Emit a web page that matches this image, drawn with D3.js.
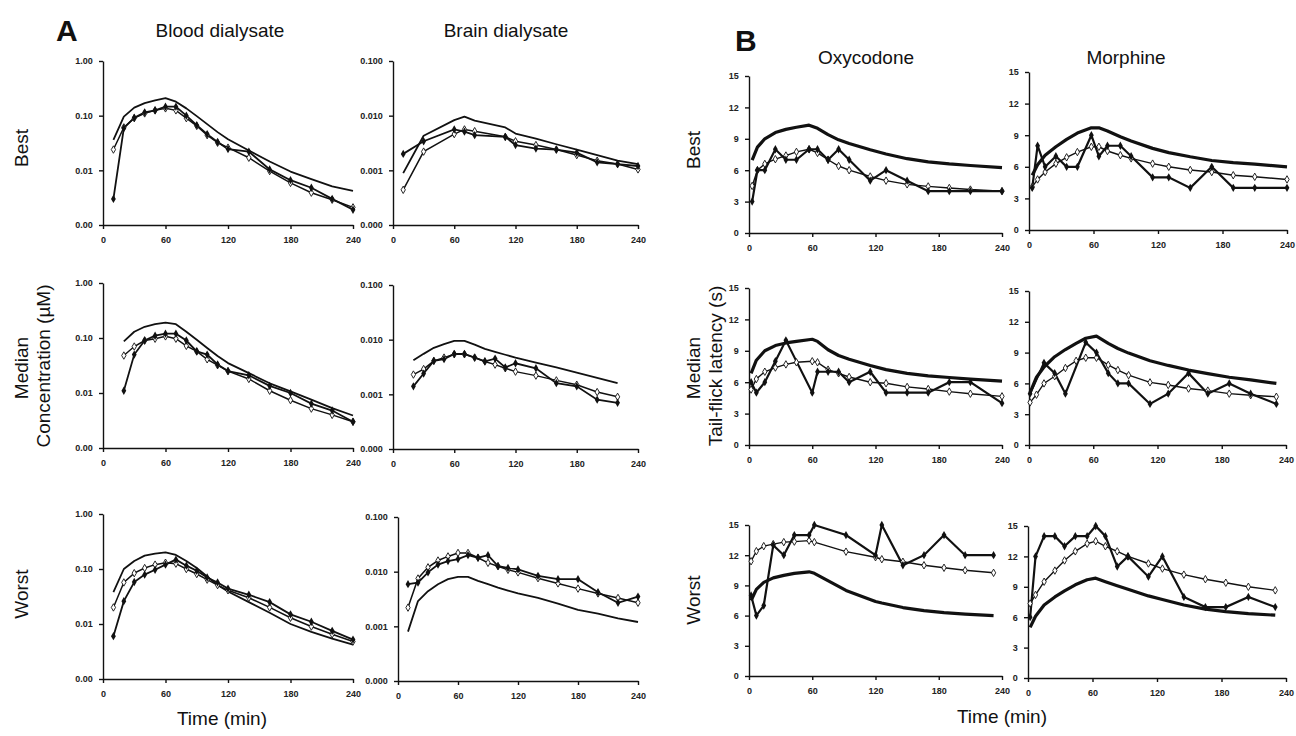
<!DOCTYPE html>
<html>
<head>
<meta charset="utf-8">
<style>
  body { margin: 0; background: #fff; }
  svg { font-family: "Liberation Sans", Arial, sans-serif; }
  .tick text { font-weight: bold; font-size: 9px; fill: #222; }
</style>
</head>
<body>
<svg id="chart" width="1296" height="736"></svg>
<script src="https://cdn.jsdelivr.net/npm/d3@7"></script>
<script>
// ---- A: blood dialysate (uM) ----
const bloodBestTimes = [10,20,30,40,50,60,70,80,90,100,110,120,140,160,180,200,220,240]
const bloodBestLine = [0.036,0.096,0.14,0.17,0.19,0.21,0.18,0.136,0.098,0.07,0.05,0.037,0.023,0.0145,0.0095,0.0069,0.0051,0.0042]
const bloodBestFilled = [0.003,0.059,0.092,0.115,0.125,0.146,0.146,0.10,0.067,0.046,0.033,0.0245,0.022,0.0104,0.0066,0.0048,0.003,0.0019]
const bloodBestOpen = [0.024,0.061,0.09,0.11,0.125,0.136,0.125,0.09,0.065,0.044,0.032,0.026,0.017,0.0097,0.0059,0.0039,0.0029,0.0021]

const bloodMedianTimes = [20,30,40,50,60,70,80,90,100,110,120,140,160,180,200,220,240]
const bloodMedianLine = [0.087,0.13,0.16,0.178,0.19,0.178,0.13,0.093,0.066,0.047,0.035,0.023,0.015,0.0107,0.0076,0.0053,0.0039]
const bloodMedianFilled = [0.011,0.05,0.09,0.11,0.12,0.12,0.09,0.057,0.05,0.033,0.025,0.021,0.0135,0.01,0.0064,0.0048,0.003]
const bloodMedianOpen = [0.048,0.07,0.09,0.097,0.107,0.097,0.072,0.057,0.041,0.032,0.025,0.018,0.011,0.0074,0.0052,0.004,0.003]

const bloodWorstTimes = [10,20,30,40,50,60,70,80,90,100,110,120,140,160,180,200,220,240]
const bloodWorstLine = [0.038,0.10,0.14,0.175,0.19,0.2,0.18,0.14,0.104,0.073,0.051,0.039,0.025,0.016,0.010,0.0072,0.0054,0.0042]
const bloodWorstFilled = [0.006,0.026,0.058,0.079,0.097,0.12,0.148,0.115,0.093,0.07,0.057,0.044,0.034,0.025,0.015,0.011,0.0075,0.0052]
const bloodWorstOpen = [0.02,0.057,0.084,0.104,0.12,0.13,0.125,0.10,0.081,0.064,0.051,0.041,0.03,0.02,0.013,0.009,0.0065,0.0048]

// ---- A: brain dialysate (uM) ----
const brainBestTimes = [10,30,60,70,80,110,120,140,160,180,200,220,240]
const brainBestLine = [0.00089,0.0043,0.0083,0.0096,0.0081,0.0061,0.0047,0.0038,0.003,0.0024,0.0019,0.0015,0.0013]
const brainBestFilled = [0.002,0.0034,0.0056,0.0051,0.0044,0.0041,0.0029,0.0025,0.0024,0.0021,0.0014,0.0013,0.0012]
const brainBestOpen = [0.00044,0.0022,0.0046,0.0056,0.0052,0.0041,0.0034,0.0029,0.0024,0.0019,0.0015,0.0013,0.00104]

const brainMedianTimes = [20,30,40,50,60,70,80,90,100,110,120,140,160,180,200,220]
const brainMedianLine = [0.0042,0.0055,0.0071,0.0083,0.0095,0.0095,0.0081,0.0068,0.006,0.0053,0.0047,0.0038,0.0031,0.0025,0.002,0.0016]
const brainMedianFilled = [0.0014,0.0024,0.0041,0.0044,0.0055,0.0055,0.0047,0.004,0.0045,0.0031,0.0037,0.003,0.0016,0.0014,0.0008,0.0007]
const brainMedianOpen = [0.0023,0.0029,0.0041,0.0047,0.0054,0.0054,0.0047,0.004,0.0035,0.003,0.0026,0.0022,0.0018,0.0015,0.0011,0.0009]

const brainWorstTimes = [10,20,30,40,50,60,70,80,90,100,110,120,140,160,180,200,220,240]
const brainWorstLine = [0.0008,0.0029,0.0044,0.0059,0.0073,0.008,0.008,0.0068,0.0059,0.0051,0.0045,0.004,0.0033,0.0026,0.002,0.0017,0.0014,0.0012]
const brainWorstFilled = [0.0059,0.0063,0.0097,0.0135,0.0156,0.017,0.02,0.018,0.02,0.0126,0.0117,0.011,0.0084,0.0073,0.0073,0.0042,0.0027,0.0035]
const brainWorstOpen = [0.0022,0.0075,0.012,0.016,0.019,0.022,0.022,0.018,0.0145,0.0126,0.0108,0.0097,0.0076,0.0061,0.0049,0.004,0.0033,0.0027]

// ---- B: oxycodone tail-flick latency (s) ----
const oxyBestTimes = [3,8,15,25,35,45,57,65,75,85,95,115,130,150,170,190,210,240]
const oxyBestLine = [6.96,8.2,9.0,9.6,9.9,10.1,10.3,10.0,9.4,8.9,8.55,7.95,7.55,7.1,6.8,6.6,6.45,6.25]
const oxyBestFilled = [3,6,6,8,7,7,8,8,7,8,7,5,6,5,4,4,4,4]
const oxyBestOpen = [4.5,6,6.6,7.05,7.4,7.75,8,7.65,7,6.4,6,5.4,5,4.65,4.45,4.3,4.15,4.0]

const oxyMedianTimes = [2,7,15,25,35,45,60,65,75,85,95,115,130,150,170,190,210,240]
const oxyMedianLine = [6.85,8.1,9.0,9.5,9.75,9.9,10.1,9.9,9.1,8.55,8.2,7.6,7.2,6.85,6.6,6.45,6.3,6.1]
const oxyMedianFilled = [6,5,6,8,10,null,5,7,7,7,6,7,5,5,5,6,6,4]
const oxyMedianOpen = [5.3,6.3,7.0,7.4,7.7,7.9,8.0,7.9,7.2,6.85,6.5,6.0,5.9,5.55,5.35,5.1,4.9,4.65]

const oxyWorstTimes = [2,7,14,23,33,43,57,62,92,120,126,146,166,185,205,232]
const oxyWorstLine = [7.5,8.6,9.3,9.75,10.0,10.2,10.35,10.2,8.5,7.4,7.25,6.8,6.5,6.3,6.15,6.0]
const oxyWorstFilled = [8,6,7,13,12,14,14,15,14,12,15,11,12,14,12,12]
const oxyWorstOpen = [11.4,12.4,12.9,13.1,13.3,13.35,13.45,13.3,12.35,11.8,11.6,11.35,11.0,10.75,10.5,10.25]

// ---- B: morphine tail-flick latency (s) ----
const morphBestTimes = [3,8,15,25,35,45,58,65,73,85,95,115,130,150,170,190,210,240]
const morphBestLine = [5.2,6.2,7.1,7.9,8.6,9.2,9.7,9.7,9.4,8.85,8.45,7.75,7.35,6.95,6.6,6.4,6.25,6.0]
const morphBestFilled = [4,8,6,7,6,6,9,7,8,8,7,5,5,4,6,4,4,4]
const morphBestOpen = [4.1,4.8,5.5,6.3,6.9,7.4,7.9,7.9,7.5,7.1,6.8,6.3,6.0,5.7,5.5,5.2,5.05,4.8]

const morphMedianTimes = [1,7,14,24,34,44,53,63,74,83,93,113,130,149,167,187,207,231]
const morphMedianLine = [5.1,6.6,7.6,8.6,9.3,9.9,10.4,10.6,9.9,9.4,8.95,8.2,7.75,7.3,6.95,6.6,6.35,6.0]
const morphMedianFilled = [5,null,8,7,5,null,10,9,7,6,6,4,5,7,5,6,5,4]
const morphMedianOpen = [4.15,4.9,6.0,6.7,7.5,8.2,8.5,8.5,7.8,7.3,6.8,6.1,5.85,5.5,5.3,5.0,4.85,4.7]

const morphWorstTimes = [2,7,15,25,34,44,55,63,72,83,93,112,125,145,165,184,205,230]
const morphWorstLine = [5.0,6.1,7.2,8.0,8.6,9.2,9.7,9.85,9.5,9.1,8.75,8.1,7.75,7.2,6.8,6.55,6.35,6.2]
const morphWorstFilled = [6,12,14,14,13,14,14,15,14,11,12,10,12,8,7,7,8,7]
const morphWorstOpen = [7.35,8.2,9.5,10.6,11.6,12.5,13.25,13.5,13.0,12.5,12.0,11.3,10.8,10.2,9.75,9.4,9.0,8.65]

const timeTicks = [0,60,120,180,240]
const bloodTicks = [0.001,0.01,0.1,1]
const brainTicks = [0.0001,0.001,0.01,0.1]
const latencyTicks = [0,3,6,9,12,15]

const svg = d3.select("#chart")

// panel placement: [x0, x1, yBottom, yTop]
const panels = [
  {t: bloodBestTimes, l: bloodBestLine, f: bloodBestFilled, o: bloodBestOpen, kind: "blood", box: [103,353,225,61]},
  {t: bloodMedianTimes, l: bloodMedianLine, f: bloodMedianFilled, o: bloodMedianOpen, kind: "blood", box: [103,353,448,283]},
  {t: bloodWorstTimes, l: bloodWorstLine, f: bloodWorstFilled, o: bloodWorstOpen, kind: "blood", box: [103,353,679,514]},
  {t: brainBestTimes, l: brainBestLine, f: brainBestFilled, o: brainBestOpen, kind: "brain", box: [393,638,225,61]},
  {t: brainMedianTimes, l: brainMedianLine, f: brainMedianFilled, o: brainMedianOpen, kind: "brain", box: [393,638,449,285]},
  {t: brainWorstTimes, l: brainWorstLine, f: brainWorstFilled, o: brainWorstOpen, kind: "brain", box: [398,638,681,517]},
  {t: oxyBestTimes, l: oxyBestLine, f: oxyBestFilled, o: oxyBestOpen, kind: "tf", box: [749,1002,233,76]},
  {t: oxyMedianTimes, l: oxyMedianLine, f: oxyMedianFilled, o: oxyMedianOpen, kind: "tf", box: [749,1002,445,288]},
  {t: oxyWorstTimes, l: oxyWorstLine, f: oxyWorstFilled, o: oxyWorstOpen, kind: "tf", box: [749,1002,676,525]},
  {t: morphBestTimes, l: morphBestLine, f: morphBestFilled, o: morphBestOpen, kind: "tf", box: [1029,1287,230,72]},
  {t: morphMedianTimes, l: morphMedianLine, f: morphMedianFilled, o: morphMedianOpen, kind: "tf", box: [1029,1286,445,291]},
  {t: morphWorstTimes, l: morphWorstLine, f: morphWorstFilled, o: morphWorstOpen, kind: "tf", box: [1028,1286,678,526]}
]

panels.forEach(drawPanel)

function drawPanel(p) {
  let [x0, x1, yb, yt] = p.box
  let x = d3.scaleLinear().domain([0,240]).range([x0,x1])
  let y, ticks, fmt
  if (p.kind == "blood") {
    y = d3.scaleLog().domain([0.001,1]).range([yb,yt]); ticks = bloodTicks; fmt = d3.format(".2f")
  } else if (p.kind == "brain") {
    y = d3.scaleLog().domain([0.0001,0.1]).range([yb,yt]); ticks = brainTicks; fmt = d3.format(".3f")
  } else {
    y = d3.scaleLinear().domain([0,15]).range([yb,yt]); ticks = latencyTicks; fmt = d3.format("d")
  }
  let isB = p.kind == "tf"
  let g = svg.append("g")

  let xAxis = g.append("g").attr("transform", `translate(0,${yb})`)
    .call(d3.axisBottom(x).tickValues(timeTicks).tickSize(4).tickSizeOuter(0))
  let yAxis = g.append("g").attr("transform", `translate(${x0},0)`)
    .call(d3.axisLeft(y).tickValues(ticks).tickFormat(fmt).tickSize(4).tickSizeOuter(0))
  g.selectAll(".domain, .tick line").attr("stroke", "#111").attr("stroke-width", 1.4)
  xAxis.selectAll(".tick text").attr("dy", "1.25em")
  yAxis.selectAll(".tick text").attr("dx", "-0.35em")

  let rows = p.t.map((t, i) => ({t, l: p.l[i], f: p.f[i], o: p.o[i]}))
  let line = key => d3.line().x(d => x(d.t)).y(d => y(d[key]))

  // model curve, no markers
  g.append("path").datum(rows.filter(d => d.l != null))
    .attr("d", line("l")).attr("fill", "none").attr("stroke", "#111")
    .attr("stroke-width", isB ? 3.2 : 1.8).attr("stroke-linejoin", "round")

  let openRows = rows.filter(d => d.o != null)
  g.append("path").datum(openRows)
    .attr("d", line("o")).attr("fill", "none").attr("stroke", "#111")
    .attr("stroke-width", isB ? 1.4 : 1.5)

  let filledRows = rows.filter(d => d.f != null)
  g.append("path").datum(filledRows)
    .attr("d", line("f")).attr("fill", "none").attr("stroke", "#111")
    .attr("stroke-width", isB ? 2.2 : 1.8)

  let diamond = d3.symbol().type(d3.symbolDiamond)
  g.selectAll(".open").data(openRows).enter().append("path")
    .attr("transform", d => `translate(${x(d.t)},${y(d.o)})`)
    .attr("d", diamond.size(16)()).attr("fill", "#fff").attr("stroke", "#111").attr("stroke-width", 0.9)
  g.selectAll(".filled").data(filledRows).enter().append("path")
    .attr("transform", d => `translate(${x(d.t)},${y(d.f)})`)
    .attr("d", diamond.size(20)()).attr("fill", "#111")
}

// labels
function label(txt, x, y, size, opts = {}) {
  let t = svg.append("text").text(txt).attr("x", x).attr("y", y)
    .attr("font-size", size).attr("text-anchor", opts.anchor || "middle").attr("fill", "#111")
  if (opts.bold) t.attr("font-weight", "bold")
  if (opts.rotate) t.attr("transform", `rotate(-90, ${x}, ${y})`)
  return t
}
label("A", 56, 41, 30, {anchor: "start", bold: true})
label("B", 735, 51, 30, {anchor: "start", bold: true})
label("Blood dialysate", 220, 37, 19)
label("Brain dialysate", 506, 37, 19)
label("Oxycodone", 866, 64, 19)
label("Morphine", 1126, 64, 19)
label("Best", 28, 148, 19, {rotate: true})
label("Median", 28, 368, 19, {rotate: true})
label("Worst", 28, 594, 19, {rotate: true})
label("Concentration (\u00b5M)", 50, 366, 19, {rotate: true})
label("Best", 700, 150, 19, {rotate: true})
label("Median", 700, 368, 19, {rotate: true})
label("Worst", 700, 600, 19, {rotate: true})
label("Tail-flick latency (s)", 722, 366, 19, {rotate: true})
label("Time (min)", 222, 725, 19)
label("Time (min)", 1002, 723, 19)
</script>
</body>
</html>
